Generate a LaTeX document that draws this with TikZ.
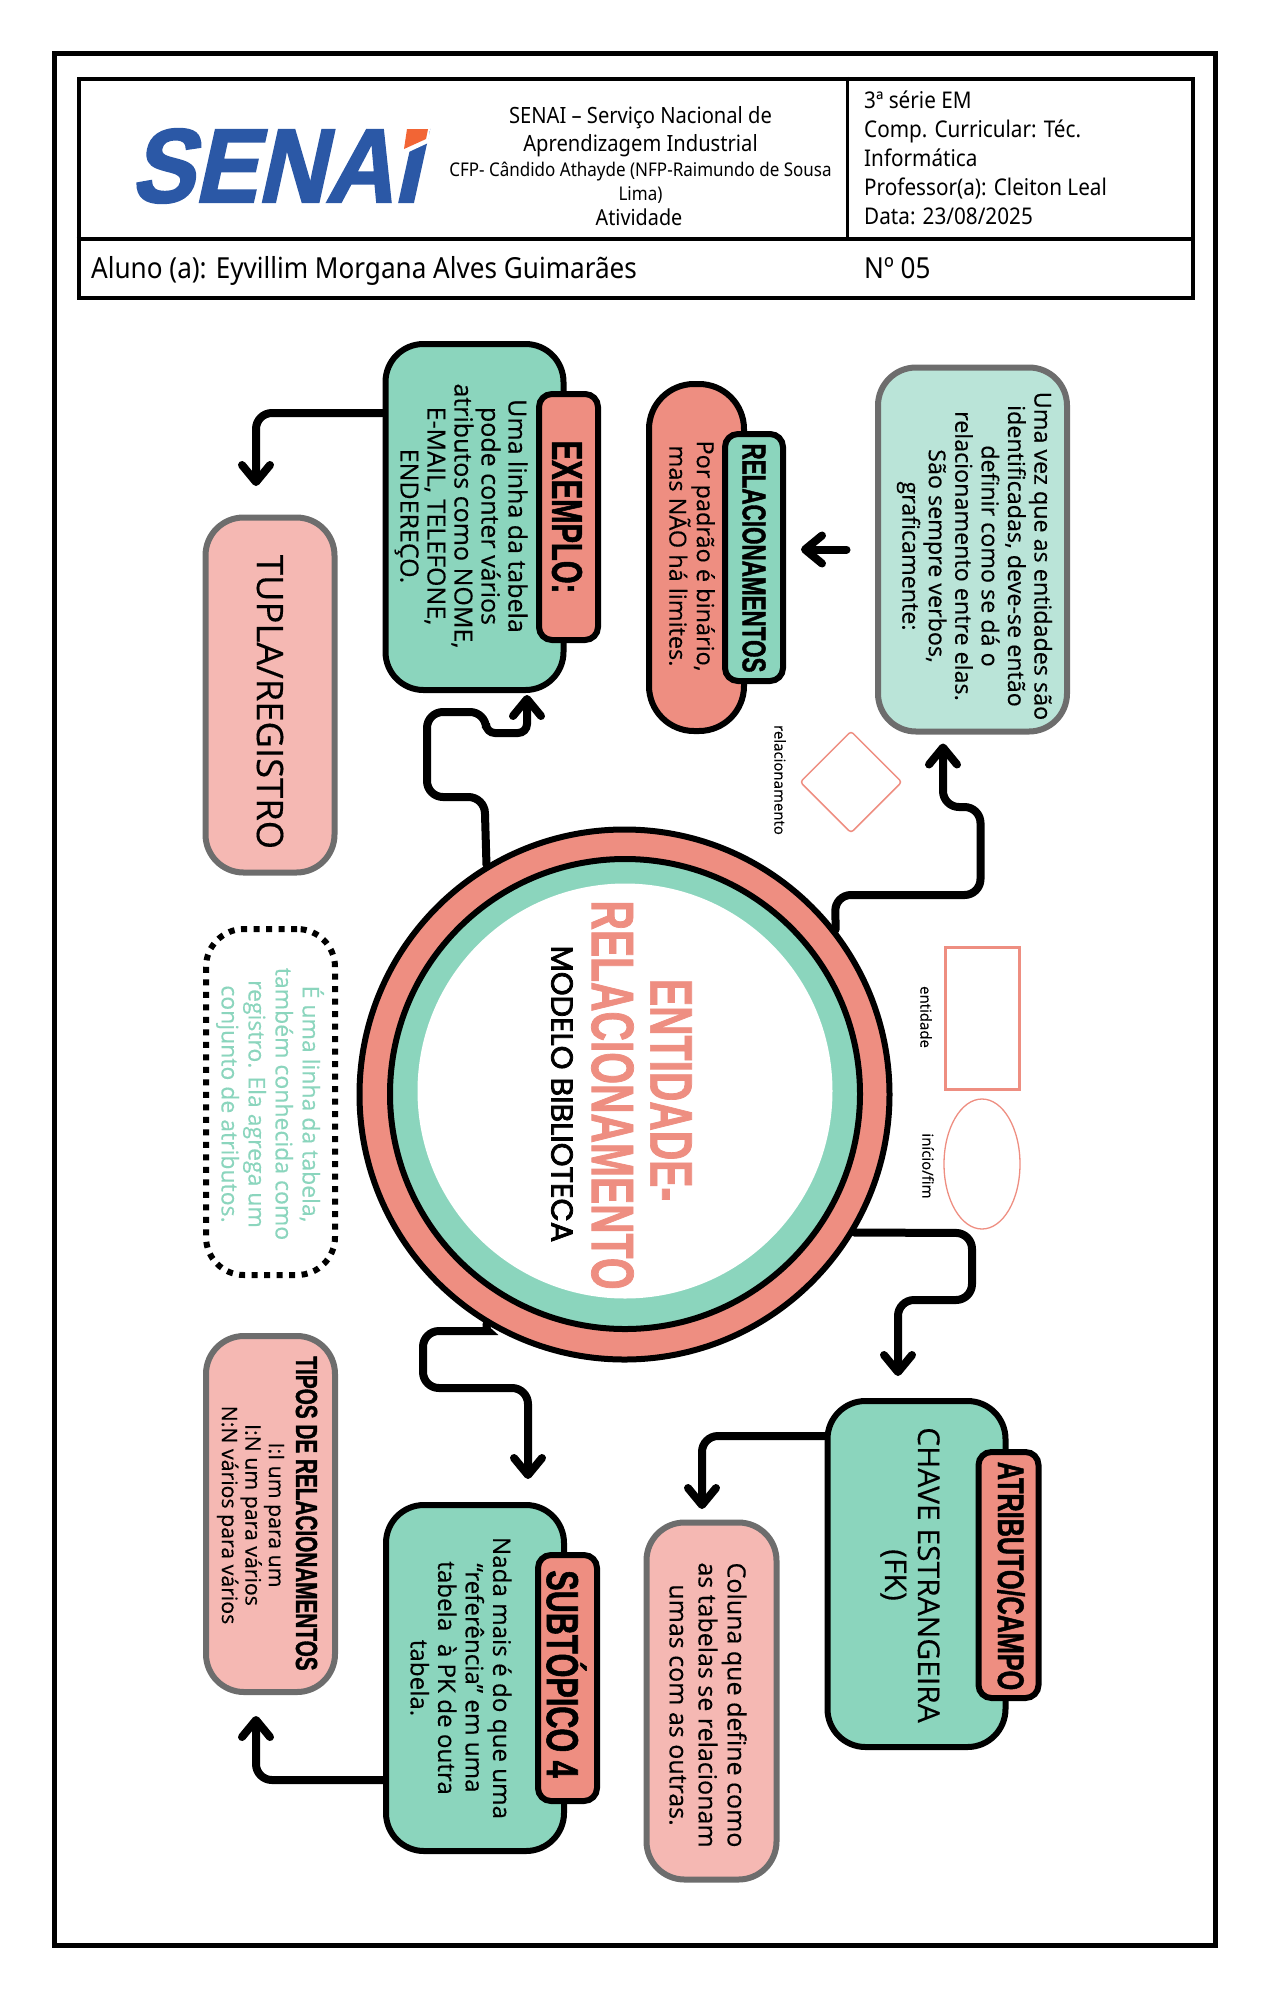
\documentclass[tikz,border=0pt]{standalone}
\usepackage{fontspec}
\setmainfont[FakeBold=0.3]{Open Sans}
\newfontfamily\condfont[FakeStretch=0.68,FakeBold=1.2]{Liberation Sans}
\newfontfamily\logofont[FakeStretch=0.9,FakeSlant=0.22,FakeBold=2]{Liberation Sans}
\newfontfamily\headfont[FakeStretch=0.9]{Noto Sans}
\newfontfamily\wideFont[FakeBold=2.5]{Poppins}
\usetikzlibrary{arrows.meta,shapes.geometric,positioning}
\definecolor{verdeM}{HTML}{8BD5BD}
\definecolor{mintM}{HTML}{BAE4D8}
\definecolor{salmao}{HTML}{EE8E81}
\definecolor{rosa}{HTML}{F5B8B3}
\definecolor{cinza}{HTML}{6D6D6D}
\definecolor{azulS}{HTML}{2B58A6}
\definecolor{laranjaS}{HTML}{F26535}
\newcommand{\tam}[2]{\fontsize{#1}{#2}\selectfont}

\begin{document}
\begin{tikzpicture}[
  x=1pt,y=-1pt,
  caixa/.style={draw,line width=6pt,rounded corners=38pt,inner sep=0pt},
  verde/.style={caixa,fill=verdeM},
  rosada/.style={caixa,draw=cinza,fill=rosa},
  selo/.style={caixa,rounded corners=13pt},
  corpo/.style={rotate=-90,align=center,inner sep=0pt,font=\tam{24}{27.5}},
  titulo/.style={rotate=-90,inner sep=0pt,font=\condfont\bfseries\tam{#1}{#1}},
  legenda/.style={rotate=-90,inner sep=0pt,font=\tam{15}{15}},
  forma/.style={draw=salmao,inner sep=0pt},
  cabeca/.style={inner sep=0pt,font=\headfont\tam{#1}{#1}},
  flow/.style={-{Straight Barb[length=17pt,width=28pt,round]},line width=8pt,rounded corners=16pt,line cap=round}
  ]
  \useasboundingbox (0,0) rectangle (1271,2000);

  % folha e tabela
  \node[draw,line width=5pt,inner sep=0pt,minimum width=1161pt,minimum height=1892pt] (folha) at (635,999.5) {};
  \node[draw,line width=4pt,inner sep=0pt,minimum width=1114pt,minimum height=219pt] (tabela) at (635.5,188.3) {};
  \draw[line width=3.5pt] (tabela.west |- 0,239) -- (tabela.east |- 0,239);
  \draw[line width=3pt] (tabela.north -| 847.5,0) -- (847.5,239);

  \node[inner sep=0pt,text=azulS,font=\logofont\bfseries\tam{105}{105}] (logo) at (275,166) {SENAI};
  \fill[white] (400,122) -- (431,122) -- (428,143) -- (400,156) -- cycle;
  \fill[laranjaS] (407,129) -- (428,129) -- (426,139) -- (404,149) -- cycle;

  \node[cabeca=22.4] (senai) at (640.5,118) {SENAI – Serviço Nacional de};
  \node[cabeca=22.4] (aprend) at (640.5,146) {Aprendizagem Industrial};
  \node[cabeca=18.9] (cfp) at (640.5,172) {CFP- Cândido Athayde (NFP-Raimundo de Sousa};
  \node[cabeca=18.9] (lima) at (640.5,195) {Lima)};
  \node[cabeca=22] (ativ) at (639,217) {Atividade};
  \node[inner sep=0pt,align=left,anchor=north west,font=\headfont\tam{23}{29}] (serie) at (864,91) {3ª série EM\\Comp. Curricular: Téc.\\Informática\\Professor(a): Cleiton Leal\\Data: 23/08/2025};
  \node[cabeca=29,anchor=base west] (aluno) at (91,278) {Aluno (a): Eyvillim Morgana Alves Guimarães};
  \node[cabeca=29,anchor=base west] (numero) at (864,278) {Nº 05};

  % circulo central
  \node[circle,draw,fill=salmao,line width=6pt,minimum size=530pt] (anel) at (624.5,1094.5) {};
  \node[circle,draw,fill=verdeM,line width=6pt,minimum size=470pt] (anelb) at (625,1094) {};
  \node[circle,fill=white,minimum size=415pt] (miolo) at (625,1091) {};
  \node[titulo=60,text=salmao] (tent) at (671,1090) {ENTIDADE-};
  \node[titulo=60,text=salmao] (trel) at (612.5,1095) {RELACIONAMENTO};
  \node[rotate=-90,inner sep=0pt,font=\wideFont\tam{30.3}{30.3}] (tmod) at (562,1094) {MODELO BIBLIOTECA};

  % caixas
  \node[rosada,minimum width=129pt,minimum height=355pt] (tupla) at (270,695) {};
  \node[corpo,font=\tam{36.4}{36.4}] (ttupla) at (270,702) {TUPLA/REGISTRO};
  \node[verde,minimum width=178pt,minimum height=346pt] (exemplo) at (474.5,517) {};
  \node[selo,fill=salmao,minimum width=59pt,minimum height=246pt] (exselo) at (568.5,517) {};
  \node[titulo=43] (texselo) at (567,517) {EXEMPLO:};
  \node[corpo,font=\tam{25}{27}] (texemplo) at (461,516) {Uma linha da tabela\\pode conter vários\\atributos como NOME,\\E-MAIL, TELEFONE,\\ENDEREÇO.};

  \node[caixa,fill=salmao,rounded corners=45pt,minimum width=95pt,minimum height=347pt] (binario) at (696.5,557.5) {};
  \node[selo,fill=verdeM,minimum width=58pt,minimum height=247pt] (relselo) at (754,557.5) {};
  \node[titulo=33] (trelselo) at (754,558) {RELACIONAMENTOS};
  \node[corpo,font=\tam{23.5}{27.5}] (tbinario) at (692,556) {Por padrão é binário,\\mas NÃO há limites.};

  \node[caixa,draw=cinza,fill=mintM,minimum width=189pt,minimum height=364pt] (entidades) at (972.5,549.5) {};
  \node[corpo,font=\tam{23.3}{26.4}] (tentidades) at (974.5,556) {Uma vez que as entidades são\\identificadas, deve-se então\\definir como se dá o\\relacionamento entre elas.\\São sempre verbos,\\graficamente:};

  \node[caixa,dash pattern=on 6pt off 6.5pt,minimum width=129pt,minimum height=346pt] (linha) at (270.5,1102) {};
  \node[corpo,text=verdeM,font=\tam{23}{27}] (tlinha) at (270,1104) {É uma linha da tabela,\\também conhecida como\\registro. Ela agrega um\\conjunto de atributos.};

  \node[verde,minimum width=178pt,minimum height=346pt] (fk) at (916.5,1574) {};
  \node[selo,fill=salmao,minimum width=60pt,minimum height=246pt] (atrselo) at (1008.5,1575) {};
  \node[titulo=37] (tatrselo) at (1011,1576) {ATRIBUTO/CAMPO};
  \node[corpo,font=\tam{30}{33}] (tfk) at (910,1575) {CHAVE ESTRANGEIRA\\(FK)};

  \node[rosada,minimum width=130pt,minimum height=357pt] (coluna) at (711.5,1701) {};
  \node[corpo,font=\tam{25}{29}] (tcoluna) at (708,1705) {Coluna que define como\\as tabelas se relacionam\\umas com as outras.};

  \node[verde,minimum width=178pt,minimum height=346pt] (sub) at (475,1678) {};
  \node[selo,fill=salmao,minimum width=59pt,minimum height=246pt] (subselo) at (567.5,1678) {};
  \node[titulo=45] (tsubselo) at (566.5,1674) {SUBTÓPICO 4};
  \node[corpo,font=\tam{24.2}{27.5}] (tsub) at (461,1678) {Nada mais é do que uma\\“referência” em uma\\tabela~~à PK de outra\\tabela.};

  \node[rosada,minimum width=129pt,minimum height=356pt] (tipos) at (270.5,1514) {};
  \node[titulo=30.5] (ttitulo) at (306.5,1513.5) {TIPOS DE RELACIONAMENTOS};
  \node[corpo,font=\tam{21.3}{23.5}] (ttipos) at (250.5,1515) {I:I um para um\\I:N um para vários\\N:N vários para vários};

  % legenda
  \node[forma,diamond,aspect=1,line width=1.5pt,rounded corners=3pt,minimum width=102pt,minimum height=102pt] (relforma) at (851,782) {};
  \node[legenda] (trelforma) at (780,780) {relacionamento};
  \node[forma,line width=3pt,minimum width=74pt,minimum height=142pt] (entforma) at (982,1018.5) {};
  \node[legenda] (tentforma) at (926,1017) {entidade};
  \node[forma,ellipse,line width=1.3pt,minimum width=76pt,minimum height=130pt] (iniforma) at (982,1164) {};
  \node[legenda] (tiniforma) at (928,1166) {início/fim};

  % setas
  \draw[flow] ([yshift=104pt]exemplo.west) -- (256,413) -- ([xshift=-14pt,yshift=28.5pt]tupla.north);
  \draw[flow] (anel.121.6) -- (484.5,797) -- (427,797) -- (427,712) -- (486,712) [rounded corners=9pt] -- (486,733) -- (527,733) [rounded corners=14pt] -- ([xshift=52.5pt,yshift=-2pt]exemplo.south);
  \draw[flow,shorten <=28.5pt] (entidades.west) -- ([xshift=15pt]entidades.west -| relselo.east);
  \draw[flow] (anel.38.4) -- (835,895) -- (980.5,895) -- (980.5,807) -- (943,807) -- ([xshift=-29.5pt,yshift=-9pt]entidades.south);
  \draw[flow] (anel.-31.2) -- (972,1233) -- (972,1300) -- (898,1300) -- ([xshift=-18.5pt,yshift=22pt]fk.north);
  \draw[flow] ([yshift=138pt]fk.west) -- (702,1436) -- ([xshift=-9.5pt,yshift=10.5pt]coluna.north);
  \draw[flow] (anel.239) .. controls (487,1331) .. (472,1331) -- (423,1331) -- (423,1388) -- (528,1388) -- ([xshift=53pt,yshift=23pt]sub.north);
  \draw[flow] ([yshift=-102pt]sub.west) -- (256,1780) -- ([xshift=-14.5pt,yshift=-21pt]tipos.south);
\end{tikzpicture}
\end{document}
